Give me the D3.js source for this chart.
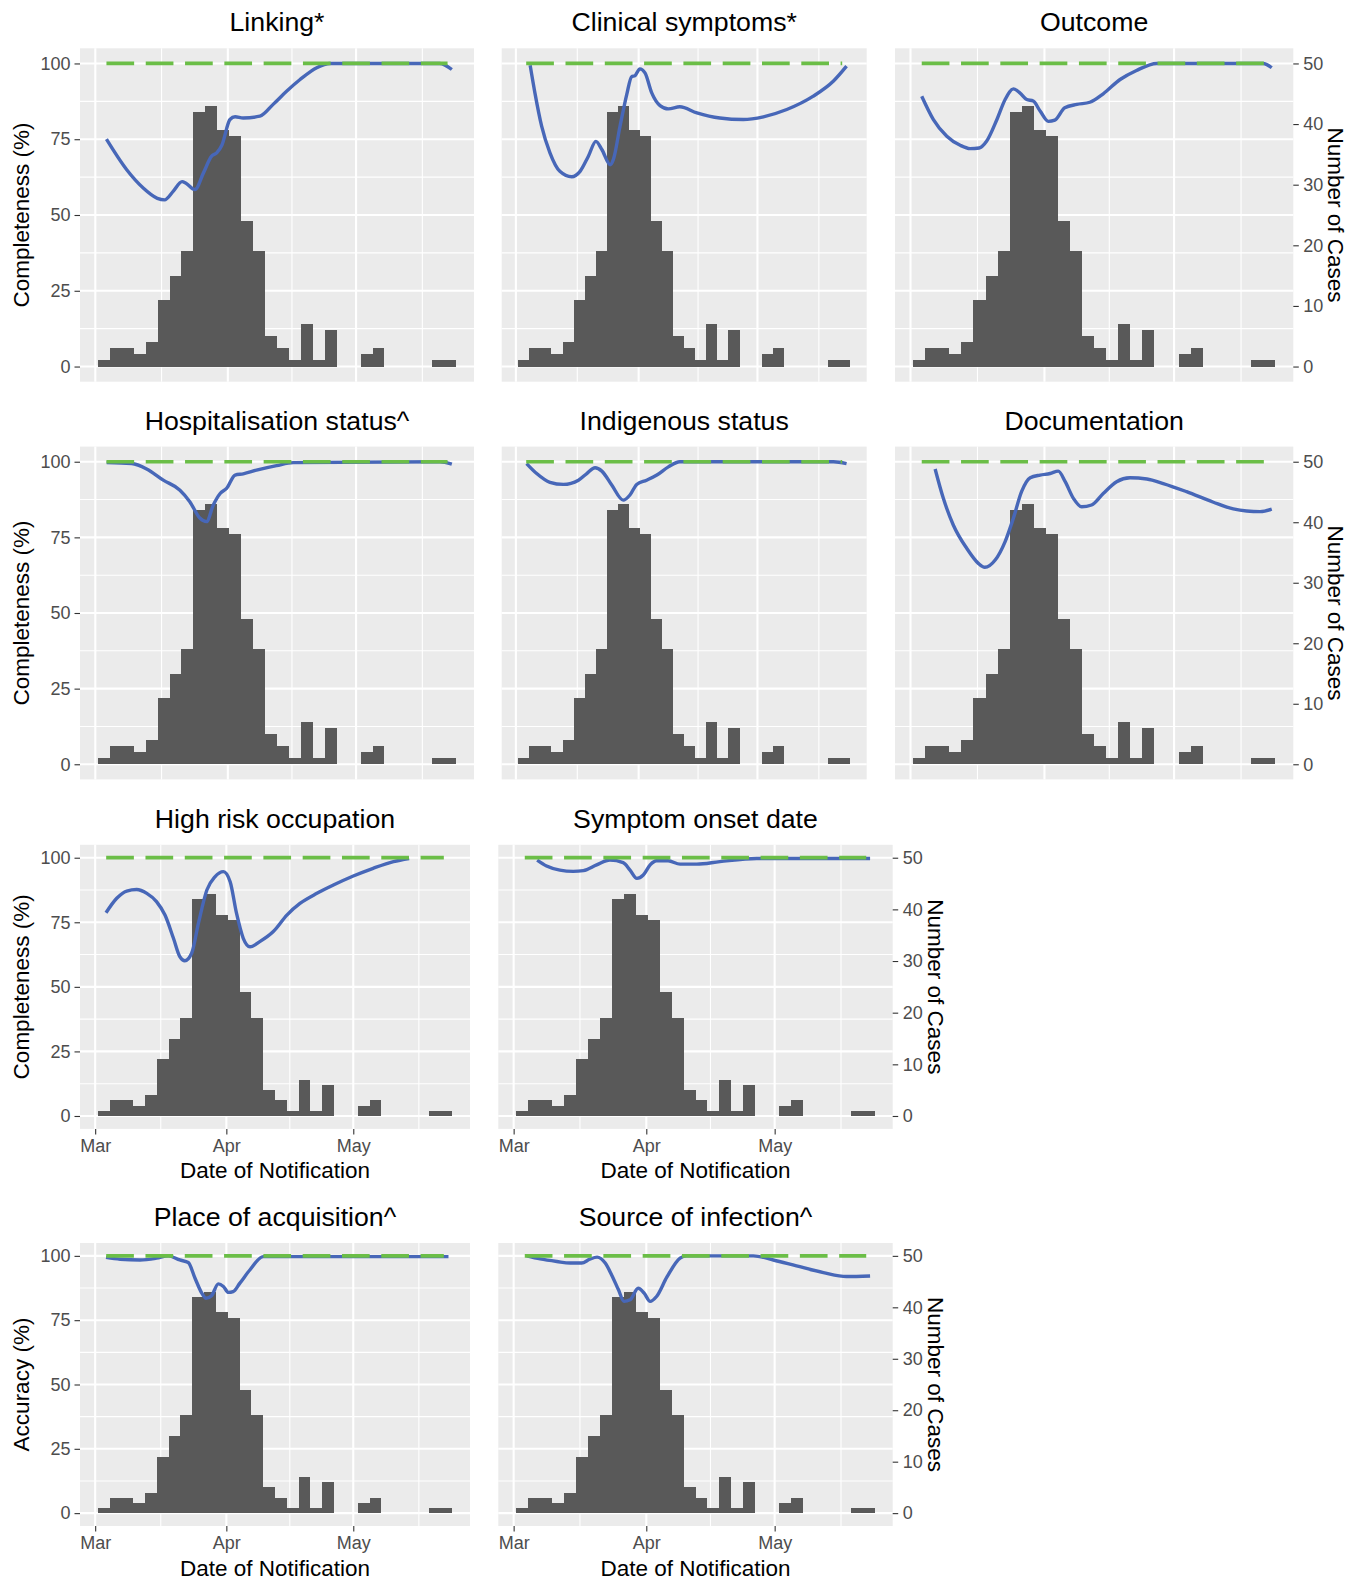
<!DOCTYPE html>
<html>
<head>
<meta charset="utf-8">
<script src="https://cdn.jsdelivr.net/npm/d3@7"></script>
<style>
body { margin: 0; background: #fff; }
text { font-family: "Liberation Sans", Arial, sans-serif; }
</style>
</head>
<body>
<script>
// all days are counted from 1 March 2020
var dayZero = Date.UTC(2020, 2, 1);

// notifications per bin (30 bins between first and last case)
var firstCase = 2;   // 3 Mar
var lastCase = 83;   // 23 May
var caseCounts = [1, 3, 3, 2, 4, 11, 15, 19, 42, 43, 39, 38, 24, 19, 5, 3, 1, 7, 1, 6, 0, 0, 2, 3, 0, 0, 0, 0, 1, 1];

// target line (100 %)
var targetDays = [2.6, 82.4];
var targetValue = 100;

var monthTicks = [0, 31, 61];          // 1 Mar, 1 Apr, 1 May
var monthMinor = [15.5, 46, 76.5];
var pctTicks = [0, 25, 50, 75, 100];
var pctMinor = [12.5, 37.5, 62.5, 87.5];
var caseTicks = [0, 10, 20, 30, 40, 50];

// smoothed completeness / accuracy, [day, percent]
var linking = [[2.6,75],[7.3,65],[11.2,58.9],[14.5,55.5],[16.2,55],[18.2,57.8],[20.3,61],[21.2,60.5],[23.3,58.4],[25.3,63.9],[27.2,69.4],[28.4,70.5],[29.6,73],[31.5,81.5],[32.7,82.4],[34.6,82],[38.5,82.6],[41.6,86.5],[44.8,90.9],[47.9,94.7],[51.8,98.6],[54.9,100],[80.6,100],[83.4,98]];
var clinical = [[3.6,99.4],[4.8,90.3],[6.5,79.3],[8.6,70.5],[11.1,64.4],[14.1,62.6],[16.2,64.4],[18.3,69.4],[20.2,74.3],[21.7,71.6],[23.8,66.6],[24.6,68.3],[26.3,79.3],[28,89.8],[29.2,95.6],[30.1,96],[31.3,98.2],[32.6,96.9],[34.3,90.3],[36.4,86.1],[38.5,85],[41.4,85.7],[45.7,83.7],[51.5,82],[57.4,81.5],[62.5,82.4],[68.4,84.8],[75.1,89.2],[80.2,94.2],[83.5,99.1]];
var outcome = [[2.6,89.2],[5.3,81.5],[8.4,76],[11.5,73],[13.8,71.9],[15.9,72.1],[17.6,74.3],[20,81.5],[21.9,88.1],[23.8,91.6],[25.3,90.3],[26.9,88.1],[28.4,87.6],[30,84.3],[31.9,80.9],[33.4,81.3],[35.7,85.4],[38.5,86.5],[41.5,87.2],[44.6,90],[48.5,94.7],[52.3,97.7],[57,100],[81.6,100],[83.6,98.6]];
var hospitalisation = [[2.65,99.7],[8.5,99.4],[12,97.6],[15.9,93.9],[19.8,90.6],[22.1,86.8],[24.5,81.3],[26,80.2],[27.6,85.7],[29.2,89.5],[30.7,91.2],[32.7,95.6],[34.6,96],[37.7,97.2],[42.4,98.7],[46.3,99.7],[80.6,100],[83.4,99.2]];
var indigenous = [[2.7,99.4],[5.25,96.1],[8.6,93.2],[12,92.5],[15.8,93.9],[17.9,96.1],[20,98],[21.7,96.9],[24.2,92.3],[27.1,87.3],[28.8,89],[30.5,92.5],[33,93.9],[35.6,95.6],[38.5,98.3],[41.4,100],[80.2,100],[83.5,99.4]];
var documentation = [[5.7,97.6],[7.6,87.9],[9.9,79.1],[13,71.4],[15.7,66.4],[17.2,65.1],[19.6,67.5],[21.9,73.6],[23.8,81.3],[25.7,90.1],[27.7,94.7],[30,95.6],[32.3,96.1],[34.2,96.9],[35.8,93.4],[37.7,87.9],[39.6,85.1],[41.9,85.7],[44.6,89.5],[47.7,93.4],[50.8,94.7],[54.7,94.3],[58.5,92.8],[63.9,90.1],[70.1,86.6],[74.7,84.4],[77.8,83.7],[80.9,83.5],[83.6,84.3]];
var highRisk = [[2.56,78.7],[5.1,84.3],[7.45,87.1],[9.8,87.7],[12.2,86.2],[14.5,83],[16.5,77.8],[18.5,68.8],[20,61.7],[21.2,60.1],[22.8,63],[24.4,74.6],[26.4,87.5],[28.3,92.6],[30.3,94.6],[31.9,90.7],[33.4,78.5],[35,68.8],[36.6,65.5],[38.9,67.5],[42.1,71.4],[45.3,77.8],[48.4,82.3],[52.4,86.2],[56.3,89.4],[61,92.9],[65.7,95.9],[70.5,98.5],[74.2,99.7]];
var symptomOnset = [[5.5,99.1],[7.7,96.8],[10.8,95.2],[13.9,94.7],[16.3,95],[19.4,97.2],[22.5,99.1],[25.6,98.1],[27.2,95.2],[28.8,92],[30.3,93.3],[31.9,97.2],[33.4,98.8],[36.1,98.8],[38.9,97.5],[42.8,97.5],[48.2,98.5],[56.8,99.7],[83.3,99.7]];
var placeAcquisition = [[2.56,99.4],[5.9,98.7],[10.6,98.4],[14.5,99.1],[17.3,100],[20,98.4],[22,97.4],[23.6,91.3],[25.2,85.5],[26.2,83.5],[27.5,84.5],[29.1,89.1],[30.3,88.1],[31.5,85.8],[32.6,86.1],[34.2,89.4],[36.6,94.6],[39.7,99.7],[83.5,99.7]];
var sourceInfection = [[3.05,100],[6.2,98.8],[10.1,97.8],[13.2,97.2],[15.9,97.2],[17.8,98.7],[19.5,99.5],[21.4,97.2],[22.9,92.6],[24.5,86.8],[25.8,82.3],[27.2,82.9],[29.1,87.4],[30.5,85.5],[31.9,82.3],[33.4,84.2],[35.8,91.7],[38.9,99.1],[40.4,100],[56,100],[60.7,98.4],[66.1,96.1],[72.4,93.5],[77.8,92],[83.3,92.2]];

var panels = [
  {title: "Linking*", row: 0, col: 0, pts: linking},
  {title: "Clinical symptoms*", row: 0, col: 1, pts: clinical},
  {title: "Outcome", row: 0, col: 2, pts: outcome},
  {title: "Hospitalisation status^", row: 1, col: 0, pts: hospitalisation},
  {title: "Indigenous status", row: 1, col: 1, pts: indigenous},
  {title: "Documentation", row: 1, col: 2, pts: documentation},
  {title: "High risk occupation", row: 2, col: 0, pts: highRisk},
  {title: "Symptom onset date", row: 2, col: 1, pts: symptomOnset},
  {title: "Place of acquisition^", row: 3, col: 0, pts: placeAcquisition, ylab: "Accuracy (%)"},
  {title: "Source of infection^", row: 3, col: 1, pts: sourceInfection}
];

// layout
var rows = [
  {top: 48.3, bottom: 381.7},
  {top: 446.6, bottom: 779.4},
  {top: 844.8, bottom: 1128.9},
  {top: 1243, bottom: 1526}
];
var colsWide = [[80, 474], [501.7, 866.7], [895, 1293.3]];
var colsNarrow = [[80, 470], [498.3, 892.7]];

var blue = "#4767B8", green = "#6BBE47";

function toDate(d) { return new Date(dayZero + d * 864e5); }

var binWidth = (lastCase - firstCase) / (caseCounts.length - 1);
var bins = caseCounts.map(function(c, i) {
  var a = firstCase - binWidth / 2 + i * binWidth;
  return {x0: a, x1: a + binWidth, n: c};
});
var lo = bins[0].x0, hi = bins[bins.length - 1].x1, pad = (hi - lo) * 0.05;

var svg = d3.select("body").append("svg")
  .attr("width", 1365)
  .attr("height", 1583);

svg.append("rect").attr("width", 1365).attr("height", 1583).attr("fill", "#fff");

panels.forEach(function(p) {
  var r = rows[p.row];
  var c = (p.row < 2 ? colsWide : colsNarrow)[p.col];
  var lastCol = p.row < 2 ? 2 : 1;

  var x = d3.scaleUtc()
    .domain([toDate(lo - pad), toDate(hi + pad)])
    .range(c);
  var y = d3.scaleLinear().domain([-5, 105]).range([r.bottom, r.top]);
  var yn = d3.scaleLinear().domain([-2.5, 52.5]).range([r.bottom, r.top]);

  var g = svg.append("g");

  g.append("rect")
    .attr("x", c[0]).attr("y", r.top)
    .attr("width", c[1] - c[0]).attr("height", r.bottom - r.top)
    .attr("fill", "#EBEBEB");

  // grid
  g.selectAll(".hmin").data(pctMinor).enter().append("line")
    .attr("x1", c[0]).attr("x2", c[1])
    .attr("y1", function(d) { return y(d); }).attr("y2", function(d) { return y(d); })
    .attr("stroke", "#fff").attr("stroke-width", 1.1);
  g.selectAll(".vmin").data(monthMinor).enter().append("line")
    .attr("y1", r.top).attr("y2", r.bottom)
    .attr("x1", function(d) { return x(toDate(d)); }).attr("x2", function(d) { return x(toDate(d)); })
    .attr("stroke", "#fff").attr("stroke-width", 1.1);
  g.selectAll(".hmaj").data(pctTicks).enter().append("line")
    .attr("x1", c[0]).attr("x2", c[1])
    .attr("y1", function(d) { return y(d); }).attr("y2", function(d) { return y(d); })
    .attr("stroke", "#fff").attr("stroke-width", 2.1);
  g.selectAll(".vmaj").data(monthTicks).enter().append("line")
    .attr("y1", r.top).attr("y2", r.bottom)
    .attr("x1", function(d) { return x(toDate(d)); }).attr("x2", function(d) { return x(toDate(d)); })
    .attr("stroke", "#fff").attr("stroke-width", 2.1);

  // histogram
  g.selectAll(".bar").data(bins.filter(function(b) { return b.n > 0; })).enter().append("rect")
    .attr("x", function(b) { return x(toDate(b.x0)); })
    .attr("width", function(b) { return x(toDate(b.x1)) - x(toDate(b.x0)); })
    .attr("y", function(b) { return yn(b.n); })
    .attr("height", function(b) { return yn(0) - yn(b.n); })
    .attr("fill", "#595959")
    .attr("shape-rendering", "crispEdges");

  // smoothed line
  var line = d3.line()
    .x(function(d) { return x(toDate(d[0])); })
    .y(function(d) { return y(d[1]); })
    .curve(d3.curveMonotoneX);
  g.append("path").attr("d", line(p.pts))
    .attr("fill", "none").attr("stroke", blue).attr("stroke-width", 3.4);

  // target
  g.append("path")
    .attr("d", d3.line()
      .x(function(d) { return x(toDate(d)); })
      .y(function() { return y(targetValue); })(targetDays))
    .attr("fill", "none").attr("stroke", green).attr("stroke-width", 3.7)
    .attr("stroke-dasharray", "27.7,11.6");

  // title
  svg.append("text")
    .attr("x", (c[0] + c[1]) / 2).attr("y", r.top - 17)
    .attr("text-anchor", "middle")
    .attr("font-size", "26.7px").attr("fill", "#000")
    .text(p.title);

  function styleAxis(a) {
    a.select(".domain").remove();
    a.selectAll(".tick line").attr("stroke", "#333").attr("stroke-width", 1.1);
    a.selectAll(".tick text").attr("fill", "#4D4D4D").attr("font-size", "18px")
      .attr("font-family", "Liberation Sans, Arial, sans-serif");
  }

  var midY = (r.top + r.bottom) / 2;

  if (p.col === 0) {
    var al = svg.append("g").attr("transform", "translate(" + c[0] + ",0)")
      .call(d3.axisLeft(y).tickValues(pctTicks).tickSize(5.5).tickPadding(4));
    styleAxis(al);
    svg.append("text")
      .attr("transform", "translate(" + (c[0] - 51) + "," + midY + ") rotate(-90)")
      .attr("text-anchor", "middle")
      .attr("font-size", "22.5px").attr("fill", "#000")
      .text(p.ylab || "Completeness (%)");
  }
  if (p.col === lastCol) {
    var ar = svg.append("g").attr("transform", "translate(" + c[1] + ",0)")
      .call(d3.axisRight(yn).tickValues(caseTicks).tickSize(5.5).tickPadding(4.5));
    styleAxis(ar);
    svg.append("text")
      .attr("transform", "translate(" + (c[1] + 35) + "," + midY + ") rotate(90)")
      .attr("text-anchor", "middle")
      .attr("font-size", "22.5px").attr("fill", "#000")
      .text("Number of Cases");
  }
  if (p.row >= 2) {
    var ab = svg.append("g").attr("transform", "translate(0," + r.bottom + ")")
      .call(d3.axisBottom(x).tickValues(monthTicks.map(toDate))
        .tickFormat(d3.utcFormat("%b")).tickSize(5.5).tickPadding(4.5));
    styleAxis(ab);
    svg.append("text")
      .attr("x", (c[0] + c[1]) / 2).attr("y", r.bottom + 49.5)
      .attr("text-anchor", "middle")
      .attr("font-size", "22.5px").attr("fill", "#000")
      .text("Date of Notification");
  }
});
</script>
</body>
</html>
